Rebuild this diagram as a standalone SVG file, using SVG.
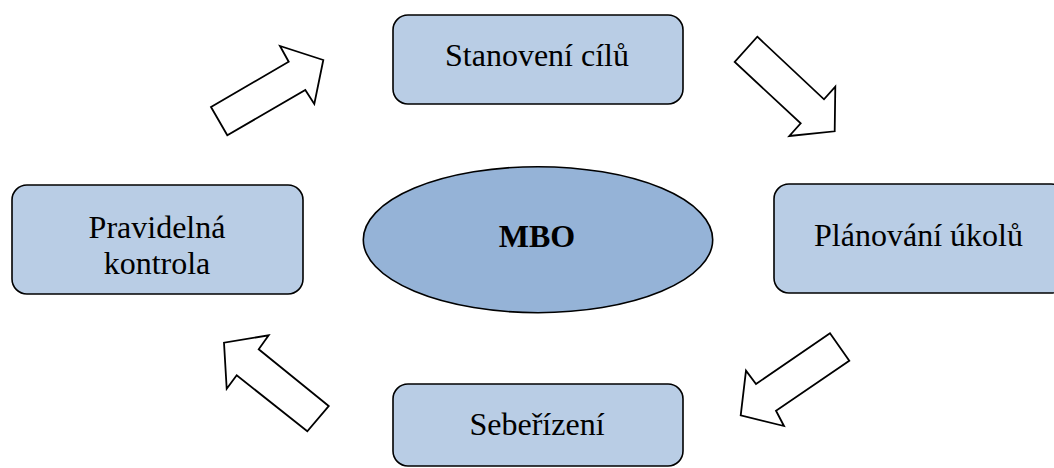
<svg xmlns="http://www.w3.org/2000/svg" width="1054" height="468" viewBox="0 0 1054 468">
<style>
.box{fill:#B9CDE5;stroke:#000;stroke-width:1.6}
.ell{fill:#95B3D7;stroke:#000;stroke-width:1.6}
.arr{fill:#fff;stroke:#000;stroke-width:1.8;stroke-linejoin:miter}
.t{font-family:"Liberation Serif","Times New Roman",serif;font-size:32px;fill:#000;text-anchor:middle}
.b{font-weight:bold}
</style>
<rect width="1054" height="468" fill="#fff"/>
<g id="connectors">
<polygon class="arr" points="211,107 288.7,61.7 280,46 323.3,60 314.3,104 305.3,90 227.3,135.3"/>
<polygon class="arr" points="757.3,36.7 824,99.3 835.3,86.7 834.7,131.3 789.3,136 800.7,123.3 734.7,62"/>
<polygon class="arr" points="830,333.3 849.3,360.7 776,410.7 784,426 740.7,415.3 746,370.7 756,384"/>
<polygon class="arr" points="328.7,406 258.7,349.3 268.7,335.3 224,342.7 226.7,388.7 236.7,375.3 307.3,431.3"/>
</g>
<g id="mbo">
<ellipse class="ell" cx="538" cy="239.7" rx="174.7" ry="73"/>
<text class="t b" x="537" y="247.3">MBO</text>
</g>
<g id="stanoveni">
<rect class="box" x="393" y="15" width="290" height="89" rx="15"/>
<text class="t" x="537" y="65.7">Stanovení cílů</text>
</g>
<g id="planovani">
<rect class="box" x="774" y="184" width="292" height="109" rx="15"/>
<text class="t" x="918.5" y="245.7">Plánování úkolů</text>
</g>
<g id="seberizeni">
<rect class="box" x="393" y="384" width="290" height="82" rx="15"/>
<text class="t" x="537" y="435">Sebeřízení</text>
</g>
<g id="kontrola">
<rect class="box" x="12" y="185" width="291" height="109" rx="15"/>
<text class="t" x="157" y="238.3">Pravidelná</text>
<text class="t" x="157" y="273.7">kontrola</text>
</g>
</svg>
